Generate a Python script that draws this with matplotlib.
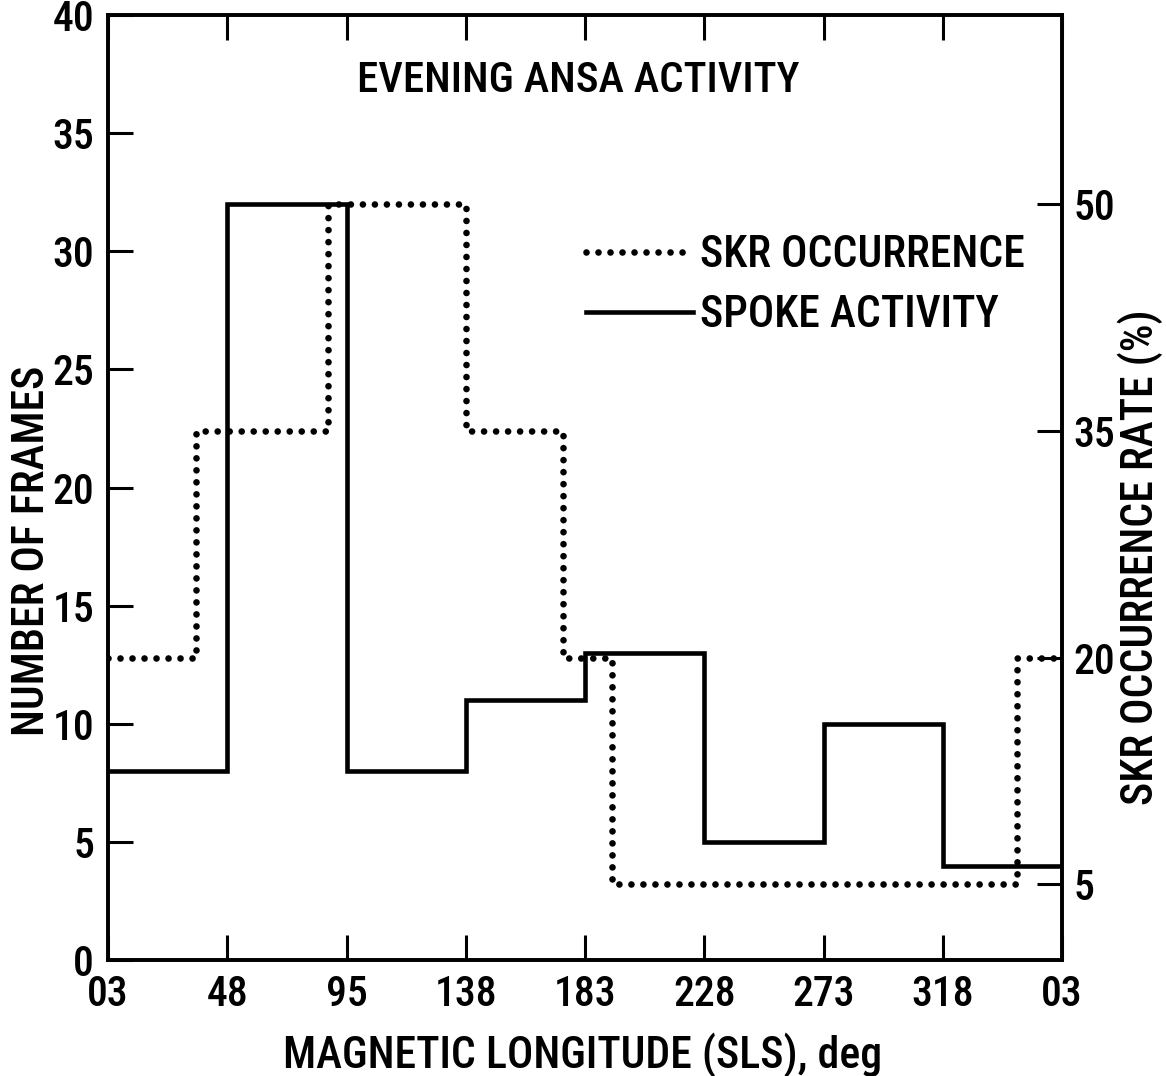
import matplotlib
matplotlib.use("Agg")
import matplotlib.pyplot as plt

plt.rcParams['font.family'] = ['Roboto Condensed', 'DejaVu Sans']
plt.rcParams['font.weight'] = 'medium'
plt.rcParams['axes.labelweight'] = 'medium'

# Longitude bins (evenly spaced on the axis)
x_labels = ["03", "48", "95", "138", "183", "228", "273", "318", "03"]

# Spoke activity: number of frames per longitude bin
spoke_edges = [0, 1, 2, 3, 4, 5, 6, 7, 8]
spoke_frames = [8, 32, 8, 11, 13, 5, 10, 4]

# SKR occurrence rate (%) per longitude interval
skr_edges = [0, 0.74, 1.845, 3.0, 3.815, 4.226, 7.62, 8]
skr_rate = [20, 35, 50, 35, 20, 5, 20]

fig = plt.figure(figsize=(11.66, 10.76), dpi=100)
ax = fig.add_axes([108 / 1166, 1 - 960 / 1076, (1062 - 108) / 1166, (960 - 15) / 1076])
ax2 = ax.twinx()

lw_spine = 2.6
for a in (ax, ax2):
    for s in a.spines.values():
        s.set_linewidth(lw_spine)

# Solid histogram: spoke activity
line_spoke, = ax.step(spoke_edges, spoke_frames + [spoke_frames[-1]], where='post',
                      color='black', lw=3.3, solid_joinstyle='miter', zorder=3)

# Dotted histogram: SKR occurrence (right axis)
line_skr, = ax2.step(skr_edges, skr_rate + [skr_rate[-1]], where='post',
                     color='black', lw=4.8, linestyle=(0, (0.001, 1.8)),
                     dash_capstyle='round', zorder=3)

ax.set_xlim(0, 8)
ax.set_ylim(0, 40)
ax2.set_ylim(0, 62.5)

ax.set_xticks(range(9))
ax.set_xticklabels(x_labels)
ax.set_yticks(range(0, 41, 5))
ax2.set_yticks([5, 20, 35, 50])

tick_kw = dict(direction='in', length=18, width=2.2, labelsize=30)
ax.tick_params(axis='x', top=True, bottom=True, pad=10, **tick_kw)
ax.tick_params(axis='y', left=True, right=False, pad=10, **tick_kw)
ax2.tick_params(axis='y', right=True, left=False, pad=8, **tick_kw)

label_size = 31.5
ax.set_xlabel("MAGNETIC LONGITUDE (SLS), deg", fontsize=label_size)
ax.xaxis.set_label_coords(0.497, -0.1005)
ax.xaxis.label.set_verticalalignment('center')

ax.set_ylabel("NUMBER OF FRAMES", fontsize=label_size)
ax.yaxis.set_label_coords(-0.080, 0.433)
ax.yaxis.label.set_verticalalignment('center')

ax2.set_ylabel("SKR OCCURRENCE RATE (%)", fontsize=label_size)
ax2.yaxis.set_label_coords(1.082, 0.426)
ax2.yaxis.label.set_verticalalignment('center')

ax.text(0.493, 0.931, "EVENING ANSA ACTIVITY", transform=ax.transAxes,
        ha='center', va='center', fontsize=31)

leg = ax.legend([line_skr, line_spoke], ["SKR OCCURRENCE", "SPOKE ACTIVITY"],
                loc='upper left', bbox_to_anchor=(0.501, 0.768), frameon=False,
                fontsize=31.5, handlelength=2.45, handletextpad=0.16,
                labelspacing=0.41, borderaxespad=0, borderpad=0)

fig.savefig("out.png", dpi=100, facecolor='white')
